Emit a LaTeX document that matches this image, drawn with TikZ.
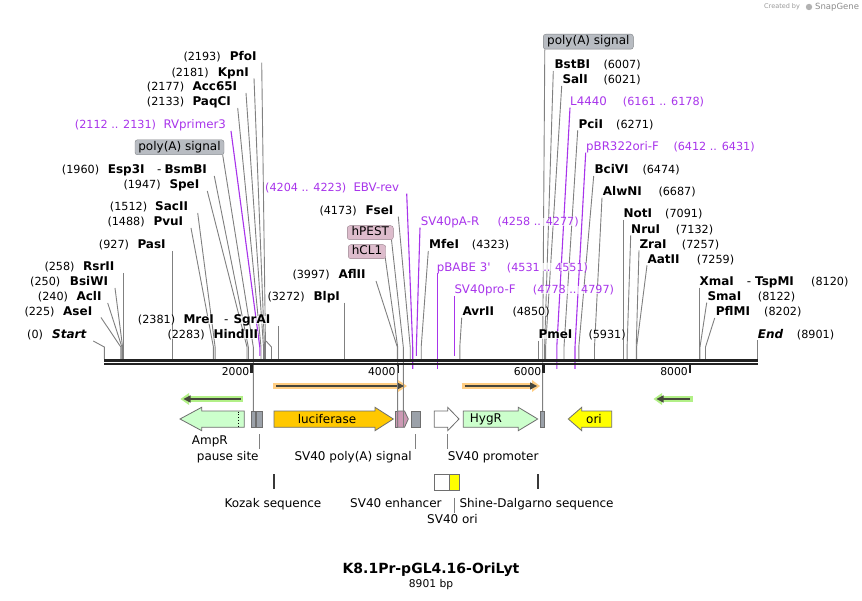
\documentclass[tikz,border=0pt]{standalone}
\usepackage{fontspec}
\setmainfont{DejaVu Sans}
\definecolor{cutgray}{RGB}{128,128,128}
\definecolor{prim}{RGB}{168,52,235}
\definecolor{bb}{RGB}{34,34,34}
\definecolor{grnfill}{RGB}{204,255,204}
\definecolor{lucfill}{RGB}{255,200,0}
\definecolor{orifill}{RGB}{255,255,0}
\definecolor{grayfeat}{RGB}{155,161,169}
\definecolor{pinkfeat}{RGB}{204,153,180}
\definecolor{pinklab}{RGB}{221,188,204}
\definecolor{graylab}{RGB}{184,188,194}
\definecolor{featborder}{RGB}{110,110,110}
\definecolor{haloO}{RGB}{255,205,130}
\definecolor{haloG}{RGB}{178,240,135}
\definecolor{orfdark}{RGB}{70,70,60}
\pgfdeclarelayer{bg}
\pgfsetlayers{bg,main}
\tikzset{
  halo/.style={fill=white, fill opacity=0.72, text opacity=1},
  num/.style={halo, font=\fontsize{11.2}{13}\selectfont, inner sep=0pt, anchor=west, text height=8pt, text depth=0pt},
  enz/.style={halo, font=\fontsize{12}{14}\selectfont\bfseries, inner sep=0pt, anchor=west, text height=8pt, text depth=0pt},
  plab/.style={halo, font=\fontsize{11.8}{14}\selectfont, text=prim, inner sep=0pt, anchor=west, text height=8pt, text depth=0pt},
  pnum/.style={num, text=prim},
  cut/.style={draw=cutgray, line width=0.9pt},
  pcut/.style={draw=prim, line width=1.1pt},
  flab/.style={font=\fontsize{12}{14}\selectfont, inner sep=0pt, anchor=west, text height=8.5pt, text depth=0pt},
  feat/.style={draw=featborder, line width=0.8pt},
  tagbox/.style={draw=#1!70!black, fill=#1, rounded corners=2.5pt, font=\fontsize{12}{14}\selectfont, inner sep=0pt, text height=8.5pt, text depth=2.5pt},
}
\newcommand\site[8]{%
  \node[num] (n#1) at (#2,#6) {#3};
  \node[enz] (e#1) at (#4,#6) {#5};
  \coordinate (s#1) at (#7,#6+6);
  \coordinate (k#1) at (#8,347);
  \coordinate (b#1) at (#8,359);
  \begin{pgfonlayer}{bg}\draw[cut] (s#1) -- (k#1) -- (b#1);\end{pgfonlayer}
}
\newcommand\psite[9]{%
  \node[pnum] (n#1) at (#2,#6) {#3};
  \node[plab] (e#1) at (#4,#6) {#5};
  \coordinate (s#1) at (#7,#6+6);
  \coordinate (k#1) at (#8,347);
  \coordinate (b#1) at (#8,#9);
  \begin{pgfonlayer}{bg}\draw[pcut] (s#1) -- (k#1) -- (b#1);\end{pgfonlayer}
}
\begin{document}
\begin{tikzpicture}[x=1pt,y=-1pt]
\begin{pgfonlayer}{bg}
\fill[white] (0,0) rectangle (862,601);
\end{pgfonlayer}
\useasboundingbox (0,0) rectangle (862,601);

% ---------- cut sites, left ----------
\site{start}{27}{(0)}{52}{\textit{Start}}{335}{93.3}{104.3}
\site{ase}{24.3}{(225)}{63}{AseI}{311.5}{101}{120.8}
\site{acl}{37.7}{(240)}{76.3}{AclI}{297}{107.7}{121.9}
\site{bsiwi}{30}{(250)}{69.7}{BsiWI}{282}{115}{122.6}
\site{rsr}{44.3}{(258)}{83}{RsrII}{267}{123.3}{123.3}
\site{pas}{98.7}{(927)}{137.3}{PasI}{245}{172.3}{172.3}
\site{pvu}{107.3}{(1488)}{153.3}{PvuI}{222}{191}{213.4}
\site{sac}{109.7}{(1512)}{155}{SacII}{207}{197.7}{215.1}
\site{spe}{123.3}{(1947)}{169.3}{SpeI}{185}{207.3}{247}
\site{esp}{61.7}{(1960)}{107.7}{Esp3I}{170}{214.3}{248.3}
\node[enz] (espdash) at (157,170) {{\mdseries -}};
\node[enz] (bsmb) at (164.3,170) {BsmBI};
\site{paq}{146.7}{(2133)}{192.3}{PaqCI}{102}{237.7}{261}
\site{acc}{146.7}{(2177)}{192.3}{Acc65I}{87}{246}{263.5}
\site{kpn}{171.3}{(2181)}{217.7}{KpnI}{72.3}{254}{264.5}
\site{pfo}{183.3}{(2193)}{229.7}{PfoI}{56.7}{261.7}{265.5}
\site{hind}{167.3}{(2283)}{213.3}{HindIII}{335}{266}{271.5}
\site{mre}{137.7}{(2381)}{183.3}{MreI}{320}{278.5}{278.5}
\node[enz] (mredash) at (224,320) {{\mdseries -}};
\node[enz] (sgra) at (233.3,320) {SgrAI};
% ---------- middle ----------
\site{blp}{267.3}{(3272)}{313.3}{BlpI}{296.7}{344.3}{344.3}
\site{afl}{292.3}{(3997)}{338.3}{AflII}{275}{376}{397.3}
\site{fse}{319.3}{(4173)}{365.3}{FseI}{210.7}{398.3}{410.2}
\site{mfe}{471.7}{(4323)}{429}{MfeI}{245}{428.3}{421.2}
\site{avr}{512.3}{(4850)}{462.3}{AvrII}{311.7}{461.7}{459.8}
\site{pme}{588.3}{(5931)}{538.3}{PmeI}{335}{538.3}{538.3}
% ---------- right ----------
\site{bstb}{603.3}{(6007)}{554.3}{BstBI}{65}{553.3}{544.6}
\site{sal}{603.3}{(6021)}{562.3}{SalI}{80}{561.7}{545.6}
\site{pci}{616}{(6271)}{578.3}{PciI}{124.3}{577.7}{564}
\site{bci}{642.3}{(6474)}{594.3}{BciVI}{170}{593.7}{578.8}
\site{alw}{658.3}{(6687)}{602.7}{AlwNI}{191.7}{602}{594.5}
\site{not}{665}{(7091)}{623.3}{NotI}{214}{623.5}{623.5}
\site{nru}{675.7}{(7132)}{631}{NruI}{229.3}{630.7}{627.1}
\site{zra}{681.7}{(7257)}{639.3}{ZraI}{244.3}{639}{636.2}
\site{aat}{696.7}{(7259)}{647.3}{AatII}{259.3}{647}{636.6}
\site{xma}{811}{(8120)}{699.3}{XmaI}{281.7}{699.5}{699.5}
\node[enz] (xmadash) at (746.7,281.7) {{\mdseries -}};
\node[enz] (tspm) at (755,281.7) {TspMI};
\site{sma}{757.7}{(8122)}{707.3}{SmaI}{296.7}{706.7}{700}
\site{pfl}{764}{(8202)}{715.7}{PflMI}{312}{714.7}{705.5}
\site{end}{796.7}{(8901)}{757.7}{\textit{End}}{334.3}{757.7}{757.7}

% ---------- primers ----------
\psite{rv}{74.7}{(2112 .. 2131)}{163.3}{RVprimer3}{125}{231}{259.8}{356}
\psite{ebv}{265}{(4204 .. 4223)}{353.3}{EBV-rev}{187.7}{406.7}{412.7}{369}
\psite{svpa}{497.3}{(4258 .. 4277)}{420.7}{SV40pA-R}{221.7}{420}{416.4}{356}
\psite{pbabe}{506.7}{(4531 .. 4551)}{436.7}{pBABE 3\textquotesingle}{267.3}{437.3}{437.3}{369}
\psite{svpro}{532.7}{(4778 .. 4797)}{454.3}{SV40pro-F}{290}{454.7}{454.7}{356}
\psite{lfour}{622.7}{(6161 .. 6178)}{570}{L4440}{101.7}{570}{556.8}{369}
\psite{pbr}{673.3}{(6412 .. 6431)}{586}{pBR322ori-F}{146.7}{585.7}{575}{369}

% ---------- feature tags above ----------
\node[tagbox=graylab, minimum width=89pt, minimum height=15pt] (polyL) at (179.5,147.3) {poly(A) signal};
\node[tagbox=graylab, minimum width=90pt, minimum height=15pt] (polyR) at (588.3,41.7) {poly(A) signal};
\node[tagbox=pinklab, minimum width=46pt, minimum height=14pt] (hpest) at (370.3,232.7) {hPEST};
\node[tagbox=pinklab, minimum width=37.4pt, minimum height=14pt] (hcl) at (367,251.7) {hCL1};
\coordinate (polyLk) at (253.3,347); \coordinate (polyLf) at (253.3,411);
\coordinate (polyRk) at (542.7,347); \coordinate (polyRf) at (542.7,411);
\coordinate (hpestk) at (403.3,347); \coordinate (hpestf) at (403.3,427);
\coordinate (hclk) at (397.7,347);   \coordinate (hclf) at (397.7,427);
\begin{pgfonlayer}{bg}
\draw[cut] (polyL.south east) ++(-1.5,0) -- (polyLk) -- (polyLf);
\draw[cut] (polyR.south west) ++(1.7,0) -- (polyRk) -- (polyRf);
\draw[cut] (hpest.south east) ++(-2,0) -- (hpestk) -- (hpestf);
\draw[cut] (hcl.south east) ++(-0.7,-1.5) -- (hclk) -- (hclf);
\end{pgfonlayer}

% ---------- backbone ----------
\draw[bb, line width=2.2pt] (104.3,360.5) -- (757.7,360.5);
\draw[bb, line width=2.4pt] (104.3,364.3) -- (757.7,364.3);
\draw[cut] (polyLk |- 0,366) -- (polyLf);
\draw[cut] (polyRk |- 0,366) -- (polyRf);
\foreach \tx/\tl in {251.5/2000, 397.8/4000, 543.5/6000, 690/8000}{
  \fill[bb] (\tx-1.2,365) rectangle (\tx+1.2,373);
  \node[font=\fontsize{10.8}{12}\selectfont, anchor=east, inner sep=0pt, text height=7.8pt, text depth=0pt] at (\tx-2,371.5) {\tl};
}

% ---------- ORF arrows ----------
\draw[haloO, line width=6.5pt] (273.3,386) -- (400,386);
\fill[haloO] (398,380) -- (407,386) -- (398,392) -- cycle;
\draw[orfdark, line width=1.7pt] (276,386) -- (398,386);
\fill[orfdark] (397,382.3) -- (404,386) -- (397,389.7) -- cycle;
\draw[haloO, line width=6.5pt] (461.7,386) -- (534,386);
\fill[haloO] (532,380) -- (540,386) -- (532,392) -- cycle;
\draw[orfdark, line width=1.7pt] (464.5,386) -- (531,386);
\fill[orfdark] (530,382.3) -- (537,386) -- (530,389.7) -- cycle;
\draw[haloG, line width=6.5pt] (186,399) -- (243.3,399);
\fill[haloG] (189,393) -- (180.5,399) -- (189,405) -- cycle;
\draw[orfdark, line width=1.7pt] (189,399) -- (240.5,399);
\fill[orfdark] (190.5,395.3) -- (183.5,399) -- (190.5,402.7) -- cycle;
\draw[haloG, line width=6.5pt] (659,399) -- (692.7,399);
\fill[haloG] (662,393) -- (653.5,399) -- (662,405) -- cycle;
\draw[orfdark, line width=1.7pt] (662,399) -- (690,399);
\fill[orfdark] (663.5,395.3) -- (656.5,399) -- (663.5,402.7) -- cycle;

% ---------- features ----------
\draw[feat, fill=grnfill] (244.3,411) -- (201.7,411) -- (201.7,407.3) -- (180,419) -- (201.7,430.7) -- (201.7,427.3) -- (244.3,427.3) -- cycle;
\draw[black, dotted, line width=0.8pt] (238.3,411.5) -- (238.3,427);
\draw[feat, fill=grayfeat] (251,411) rectangle (255.7,427.3);
\draw[feat, fill=grayfeat] (256.3,411) rectangle (262.7,427.3);
\draw[feat, fill=lucfill] (274,411) -- (375,411) -- (375,407.3) -- (393.3,419) -- (375,430.7) -- (375,427.3) -- (274,427.3) -- cycle;
\node[font=\fontsize{12}{14}\selectfont, inner sep=0pt] (lucl) at (327,419) {luciferase};
\draw[feat, fill=pinkfeat] (395,411) rectangle (397.7,427.3);
\draw[feat, fill=pinkfeat] (397.7,411) -- (404.5,411) -- (408.3,419) -- (404.5,427.3) -- (397.7,427.3) -- cycle;
\draw[cut] (hclk |- 0,366) -- (hclf);
\draw[cut] (hpestk |- 0,366) -- (hpestf);
\draw[feat, fill=grayfeat] (411,411) rectangle (420.7,427.3);
\draw[feat, fill=white] (434.3,411) -- (447.7,411) -- (447.7,407.3) -- (459,419) -- (447.7,430.7) -- (447.7,427.3) -- (434.3,427.3) -- cycle;
\draw[feat, fill=grnfill] (463.3,411) -- (518.3,411) -- (518.3,407.3) -- (537.7,419) -- (518.3,430.7) -- (518.3,427.3) -- (463.3,427.3) -- cycle;
\node[font=\fontsize{12}{14}\selectfont, inner sep=0pt] (hygl) at (486,419) {HygR};
\draw[feat, fill=grayfeat] (540,411) rectangle (544.3,427.3);
\draw[feat, fill=orifill] (611.7,411) -- (581.7,411) -- (581.7,407.3) -- (568.3,419) -- (581.7,430.7) -- (581.7,427.3) -- (611.7,427.3) -- cycle;
\node[font=\fontsize{12}{14}\selectfont, inner sep=0pt] (oril) at (594,419) {ori};
\fill[bb!90] (273,474.3) rectangle (275.2,489.3);
\fill[bb!90] (536.6,474.3) rectangle (538.8,489.3);
\draw[feat, fill=white] (434.3,474.3) rectangle (449.3,490.7);
\draw[feat, fill=orifill] (449.3,474.3) rectangle (459.3,490.7);

% ---------- feature labels ----------
\node[flab] (ampr) at (191.7,440) {AmpR};
\node[flab] (pause) at (196.7,456.7) {pause site};
\node[flab] (svpoly) at (294.3,456.7) {SV40 poly(A) signal};
\node[flab] (svprom) at (447.7,456.7) {SV40 promoter};
\node[flab] (kozak) at (224.3,503.3) {Kozak sequence};
\node[flab] (svenh) at (350,503.3) {SV40 enhancer};
\node[flab] (shine) at (459.3,503.3) {Shine-Dalgarno sequence};
\node[flab] (svori) at (427,519.5) {SV40 ori};
\coordinate (pauseT) at (259.3,434.3); \coordinate (pauseB) at (259.3,449);
\coordinate (svpT) at (415,434.3); \coordinate (svpB) at (415,449);
\coordinate (svprT) at (447.7,434.3); \coordinate (svprB) at (447.7,449);
\coordinate (svoT) at (454.3,497.7); \coordinate (svoB) at (454.3,512.7);
\draw[cut] (pauseT) -- (pauseB);
\draw[cut] (svpT) -- (svpB);
\draw[cut] (svprT) -- (svprB);
\draw[cut] (svoT) -- (svoB);

% ---------- title ----------
\node[font=\fontsize{14}{16}\selectfont\bfseries, inner sep=0pt] (title) at (431,570) {K8.1Pr-pGL4.16-OriLyt};
\node[font=\fontsize{10.7}{12}\selectfont, inner sep=0pt] (bp) at (431,584.5) {8901 bp};

% ---------- credit ----------
\node[font=\fontsize{6.5}{8}\selectfont, text=gray!80, anchor=west, inner sep=0pt] (cby) at (764,7) {Created by};
\fill[gray!60] (809,7) circle (3.2pt);
\node[font=\fontsize{8.5}{10}\selectfont, text=gray!90, anchor=west, inner sep=0pt] (sg) at (815,7) {SnapGene};
\end{tikzpicture}
\end{document}
